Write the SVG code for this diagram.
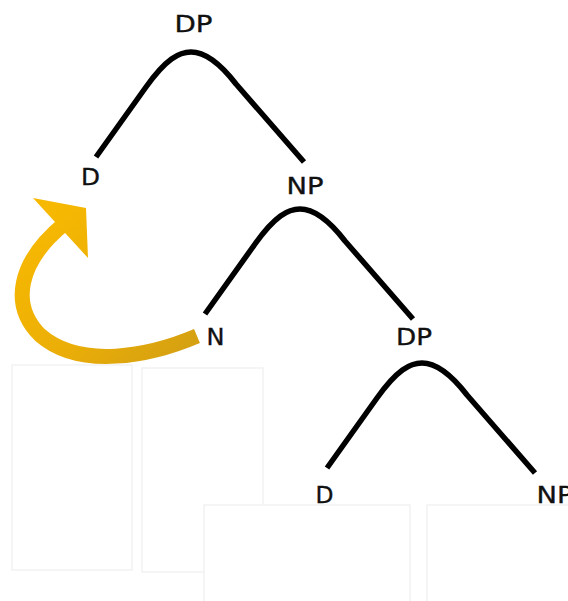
<svg xmlns="http://www.w3.org/2000/svg" xmlns:xlink="http://www.w3.org/1999/xlink" width="568" height="601" viewBox="0 0 568 601">
  <style>
    .lbl { font-family: "DejaVu Sans", "Liberation Sans", sans-serif; font-size: 23px; fill: #111; text-anchor: middle; stroke: #111; stroke-width: 0.35; }
    .arc { fill: none; stroke: #000; stroke-width: 5.5; stroke-linecap: butt; stroke-linejoin: round; }
    .ghost { fill: #fff; stroke: #f2f2f2; stroke-width: 1.5; }
  </style>
  <defs>
    <path id="branch" d="M-95,105 L-45,35 C-25,7 -12,0 0,0 C14,0 28,10 45,32 L113,110"/>
    <linearGradient id="gold" gradientUnits="userSpaceOnUse" x1="40" y1="210" x2="190" y2="355">
      <stop offset="0" stop-color="#F7B900"/>
      <stop offset="0.55" stop-color="#EBAE08"/>
      <stop offset="1" stop-color="#D4A012"/>
    </linearGradient>
  </defs>
  <rect width="568" height="601" fill="#fff"/>

  <g id="background-frames">
    <rect class="ghost" x="12" y="365" width="120" height="205"/>
    <rect class="ghost" x="142" y="368" width="121" height="204"/>
    <rect class="ghost" x="204" y="505" width="206" height="110"/>
    <rect class="ghost" x="427" y="505" width="160" height="110"/>
  </g>

  <g id="connectors">
    <use xlink:href="#branch" class="arc" transform="translate(191,52)"/>
    <use xlink:href="#branch" class="arc" transform="translate(300,209)"/>
    <use xlink:href="#branch" class="arc" transform="translate(422,363)"/>
    <g id="movement-arrow">
      <path d="M197,336 C150,356 80,370 40,335 C10,305 18,262 64,224" fill="none" stroke="url(#gold)" stroke-width="15" stroke-linecap="butt"/>
      <polygon points="33,198 86,208 88,258" fill="url(#gold)"/>
    </g>
  </g>

  <g id="node-dp-root"><text class="lbl" x="193.5" y="32" textLength="38" lengthAdjust="spacingAndGlyphs">DP</text></g>
  <g id="node-d-1"><text class="lbl" x="90.5" y="185" textLength="19" lengthAdjust="spacingAndGlyphs">D</text></g>
  <g id="node-np-1"><text class="lbl" x="305" y="194" textLength="37" lengthAdjust="spacingAndGlyphs">NP</text></g>
  <g id="node-n"><text class="lbl" x="215.5" y="345" textLength="18" lengthAdjust="spacingAndGlyphs">N</text></g>
  <g id="node-dp-2"><text class="lbl" x="414" y="345" textLength="36" lengthAdjust="spacingAndGlyphs">DP</text></g>
  <g id="node-d-2"><text class="lbl" x="324.5" y="503" textLength="18" lengthAdjust="spacingAndGlyphs">D</text></g>
  <g id="node-np-2"><text class="lbl" x="555" y="503" textLength="37" lengthAdjust="spacingAndGlyphs">NP</text></g>
</svg>
